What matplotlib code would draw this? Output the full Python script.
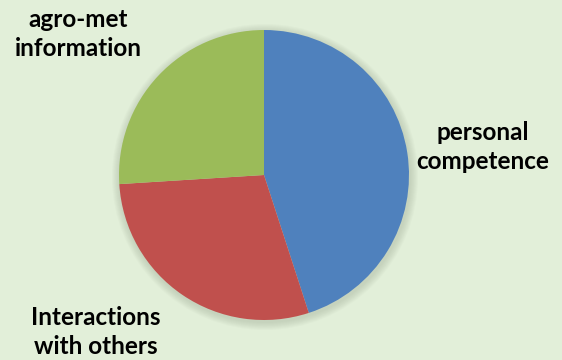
import matplotlib.pyplot as plt
from matplotlib.patches import Circle

# dane wykresu
kategorie = ['personal\ncompetence', 'Interactions\nwith others', 'agro-met\ninformation']
wartosci = [45, 29, 26]
kolory = ['#4F81BD', '#C0504D', '#9BBB59']

tlo = '#E2EFD9'

fig = plt.figure(figsize=(5.62, 3.6), dpi=100)
fig.patch.set_facecolor(tlo)
ax = fig.add_axes([0, 0, 1, 1])
ax.set_facecolor(tlo)

srodek = (264, 185)
promien = 145

# miekki cien pod kolem
for i in range(8):
    ax.add_patch(Circle((srodek[0] + 1, srodek[1] - 2), promien + 8 - i,
                        facecolor='#9aa58f', edgecolor='none', alpha=0.05, zorder=1))

ax.pie(wartosci, colors=kolory, startangle=90, counterclock=False,
       center=srodek, radius=promien, frame=True,
       wedgeprops=dict(edgecolor='none', zorder=2))
ax.set_xlim(0, 562)
ax.set_ylim(0, 360)
ax.set_aspect('equal')
ax.axis('off')

# etykiety
pozycje = [(483, 213), (96, 28), (78, 326)]
for tekst, (x, y) in zip(kategorie, pozycje):
    ax.text(x, y, tekst, ha='center', va='center', fontsize=17.5,
            fontweight='bold', family='Lato', linespacing=1.32, color='black')

plt.savefig('out.png', dpi=100, facecolor=tlo)
plt.close()
